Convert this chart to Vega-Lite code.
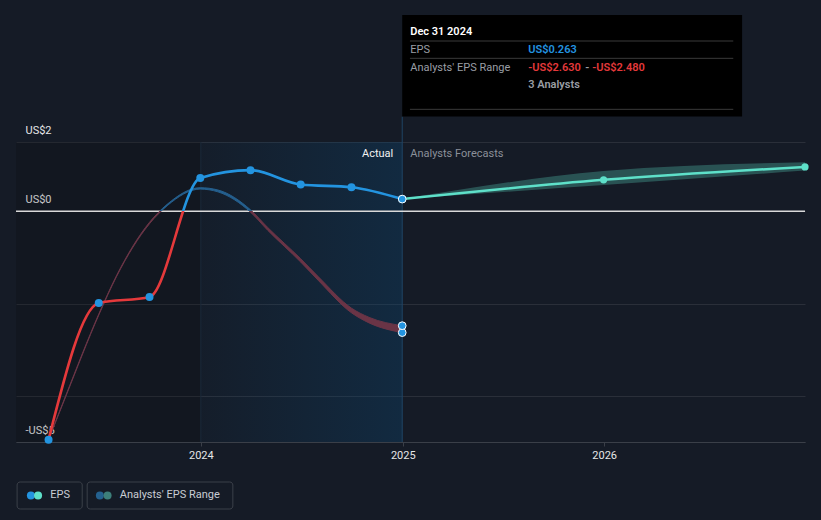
{
  "$schema": "https://vega.github.io/schema/vega-lite/v6.json",
  "width": 789,
  "height": 300,
  "autosize": {"type": "none"},
  "padding": {"left": 16, "top": 142, "right": 16, "bottom": 78},
  "background": "#151b26",
  "config": {"view": {"stroke": null}, "font": "Roboto", "text": {"font": "Roboto"}},
  "datasets": {
    "eps": [
      {"date": "2023-03-31", "eps": -4.95},
      {"date": "2023-06-30", "eps": -1.99},
      {"date": "2023-09-30", "eps": -1.86},
      {"date": "2023-12-31", "eps": 0.72},
      {"date": "2024-03-31", "eps": 0.89},
      {"date": "2024-06-30", "eps": 0.58},
      {"date": "2024-09-30", "eps": 0.52},
      {"date": "2024-12-31", "eps": 0.263}
    ],
    "past": [
      {"date": "2023-03-31", "low": -4.95, "high": -4.95},
      {"date": "2023-05-01", "low": -4.02, "high": -4.0},
      {"date": "2023-06-30", "low": -2.25, "high": -2.23},
      {"date": "2023-08-01", "low": -1.42, "high": -1.4},
      {"date": "2023-09-30", "low": -0.27, "high": -0.24},
      {"date": "2023-11-01", "low": 0.12, "high": 0.15},
      {"date": "2023-12-31", "low": 0.48, "high": 0.51},
      {"date": "2024-02-01", "low": 0.42, "high": 0.46},
      {"date": "2024-03-31", "low": -0.02, "high": 0.03},
      {"date": "2024-05-01", "low": -0.41, "high": -0.35},
      {"date": "2024-06-30", "low": -1.1, "high": -1.03},
      {"date": "2024-08-01", "low": -1.5, "high": -1.42},
      {"date": "2024-09-30", "low": -2.2, "high": -2.1},
      {"date": "2024-11-01", "low": -2.42, "high": -2.3},
      {"date": "2024-12-31", "low": -2.63, "high": -2.48}
    ],
    "forecast": [
      {"date": "2024-12-31", "eps": 0.263, "low": 0.263, "high": 0.263},
      {"date": "2025-12-31", "eps": 0.68, "low": 0.57, "high": 0.87},
      {"date": "2026-12-31", "eps": 0.96, "low": 0.88, "high": 1.06}
    ],
    "range_ends": [
      {"date": "2024-12-31", "value": -2.63},
      {"date": "2024-12-31", "value": -2.48}
    ]
  },
  "layer": [
    {
      "data": {"values": [{}]},
      "mark": {"type": "rect", "color": "#000000", "opacity": 0.14},
      "encoding": {
        "x": {"datum": {"year": 2023, "month": 1, "date": 31}, "type": "temporal"},
        "x2": {"datum": {"year": 2024, "month": 1, "date": 1}},
        "y": {"datum": 1.5, "type": "quantitative"},
        "y2": {"datum": -5}
      }
    },
    {
      "data": {"values": [{}]},
      "mark": {"type": "rect", "fill": {"gradient": "linear", "x1": 0, "y1": 0, "x2": 1, "y2": 0, "stops": [{"offset": 0, "color": "rgba(11,74,121,0.05)"}, {"offset": 1, "color": "rgba(11,74,121,0.32)"}]}},
      "encoding": {
        "x": {"datum": {"year": 2024, "month": 1, "date": 1}, "type": "temporal"},
        "x2": {"datum": {"year": 2024, "month": 12, "date": 31}},
        "y": {"datum": 1.5, "type": "quantitative"},
        "y2": {"datum": -5}
      }
    },
    {
      "data": {"values": [{}]},
      "mark": {"type": "rule", "color": "#1b2a3a", "strokeWidth": 1},
      "encoding": {
        "x": {"datum": {"year": 2024, "month": 1, "date": 1}, "type": "temporal"},
        "y": {"datum": 1.5, "type": "quantitative"},
        "y2": {"datum": -5}
      }
    },
    {
      "data": {"values": [{}]},
      "mark": {"type": "rule", "color": "#1f4464", "strokeWidth": 1},
      "encoding": {
        "x": {"datum": {"year": 2024, "month": 12, "date": 31}, "type": "temporal"},
        "y": {"datum": 2.05, "type": "quantitative"},
        "y2": {"datum": -5}
      }
    },
    {
      "data": {"values": [{}]},
      "mark": {"type": "rule", "color": "#d9d9d9", "strokeWidth": 1.3},
      "encoding": {"y": {"datum": 0, "type": "quantitative"}}
    },
    {
      "data": {"name": "past"},
      "mark": {
        "type": "area",
        "interpolate": "monotone",
        "strokeWidth": 1,
        "fill": {"gradient": "linear", "x1": 0, "y1": 0, "x2": 0, "y2": 1, "stops": [{"offset": 0, "color": "#245f8e"}, {"offset": 0.0934, "color": "#245f8e"}, {"offset": 0.0934, "color": "#6a3446"}, {"offset": 1, "color": "#6a3446"}]},
        "stroke": {"gradient": "linear", "x1": 0, "y1": 0, "x2": 0, "y2": 1, "stops": [{"offset": 0, "color": "#245f8e"}, {"offset": 0.0934, "color": "#245f8e"}, {"offset": 0.0934, "color": "#6a3446"}, {"offset": 1, "color": "#6a3446"}]}
      },
      "encoding": {
        "x": {
          "field": "date", "type": "temporal", "title": null,
          "scale": {"domain": [{"year": 2023, "month": 1, "date": 31}, {"year": 2026, "month": 12, "date": 31}]},
          "axis": {
            "values": [{"year": 2024, "month": 1, "date": 1}, {"year": 2025, "month": 1, "date": 1}, {"year": 2026, "month": 1, "date": 1}],
            "format": "%Y", "grid": false, "domainColor": "#3a3f48", "tickColor": "#3a3f48", "tickSize": 4,
            "labelPadding": 3, "labelColor": "#e6e6e6", "labelFontSize": 11, "labelFont": "Roboto"
          }
        },
        "y": {
          "field": "low", "type": "quantitative", "title": null,
          "scale": {"domain": [-5, 1.5], "nice": false, "zero": false},
          "axis": {
            "values": [-5, -4, -2, 0, 1.5],
            "labelExpr": "datum.value == 1.5 ? 'US$2' : datum.value == 0 ? 'US$0' : datum.value == -5 ? '-US$5' : ''",
            "grid": true, "gridColor": "#2a2f39", "gridWidth": 1, "domain": false, "ticks": false,
            "labelAlign": "left", "labelPadding": -9, "labelBaseline": "middle", "labelOffset": -12,
            "labelColor": "#e6e6e6", "labelFontSize": 11, "labelFont": "Roboto", "labelOverlap": false, "labelFlush": false
          }
        },
        "y2": {"field": "high"}
      }
    },
    {
      "data": {"name": "forecast"},
      "mark": {"type": "area", "interpolate": "monotone", "fill": "#50b9aa", "opacity": 0.35},
      "encoding": {
        "x": {"field": "date", "type": "temporal", "title": null},
        "y": {"field": "low", "type": "quantitative", "title": null},
        "y2": {"field": "high"}
      }
    },
    {
      "data": {"name": "forecast"},
      "mark": {"type": "line", "interpolate": "monotone", "stroke": "#5ee0c9", "strokeWidth": 2.5},
      "encoding": {
        "x": {"field": "date", "type": "temporal", "title": null},
        "y": {"field": "eps", "type": "quantitative", "title": null}
      }
    },
    {
      "data": {"name": "eps"},
      "mark": {
        "type": "line", "interpolate": "monotone", "strokeWidth": 2.6,
        "stroke": {"gradient": "linear", "x1": 0, "y1": 0, "x2": 0, "y2": 1, "stops": [{"offset": 0, "color": "#2394e0"}, {"offset": 0.1524, "color": "#2394e0"}, {"offset": 0.1524, "color": "#e5393b"}, {"offset": 1, "color": "#e5393b"}]}
      },
      "encoding": {
        "x": {"field": "date", "type": "temporal", "title": null},
        "y": {"field": "eps", "type": "quantitative", "title": null}
      }
    },
    {
      "data": {"name": "eps"},
      "mark": {"type": "circle", "size": 64, "fill": "#2394e0", "opacity": 1},
      "encoding": {
        "x": {"field": "date", "type": "temporal", "title": null},
        "y": {"field": "eps", "type": "quantitative", "title": null}
      }
    },
    {
      "data": {"name": "forecast"},
      "transform": [{"filter": "datum.eps > 0.3"}],
      "mark": {"type": "circle", "size": 52, "fill": "#5ee0c9", "opacity": 1},
      "encoding": {
        "x": {"field": "date", "type": "temporal", "title": null},
        "y": {"field": "eps", "type": "quantitative", "title": null}
      }
    },
    {
      "data": {"name": "range_ends"},
      "mark": {"type": "circle", "size": 60, "fill": "#2394e0", "stroke": "#ffffff", "strokeWidth": 1, "opacity": 1},
      "encoding": {
        "x": {"field": "date", "type": "temporal", "title": null},
        "y": {"field": "value", "type": "quantitative", "title": null}
      }
    },
    {
      "data": {"name": "eps"},
      "transform": [{"filter": "datum.eps == 0.263"}],
      "mark": {"type": "circle", "size": 60, "fill": "#2394e0", "stroke": "#ffffff", "strokeWidth": 1, "opacity": 1},
      "encoding": {
        "x": {"field": "date", "type": "temporal", "title": null},
        "y": {"field": "eps", "type": "quantitative", "title": null}
      }
    },
    {
      "data": {"values": [{}]},
      "mark": {"type": "text", "align": "right", "baseline": "middle", "dx": -9, "fontSize": 11, "color": "#f2f2f2", "text": "Actual"},
      "encoding": {
        "x": {"datum": {"year": 2024, "month": 12, "date": 31}, "type": "temporal"},
        "y": {"datum": 1.24, "type": "quantitative"}
      }
    },
    {
      "data": {"values": [{}]},
      "mark": {"type": "text", "align": "left", "baseline": "middle", "dx": 8, "fontSize": 11, "color": "#8b9099", "text": "Analysts Forecasts"},
      "encoding": {
        "x": {"datum": {"year": 2024, "month": 12, "date": 31}, "type": "temporal"},
        "y": {"datum": 1.24, "type": "quantitative"}
      }
    },
    {
      "data": {"values": [{}]},
      "mark": {"type": "rect", "fill": "#000000"},
      "encoding": {
        "x": {"datum": {"year": 2024, "month": 12, "date": 31}, "type": "temporal"},
        "x2": {"datum": {"year": 2026, "month": 9, "date": 8}},
        "y": {"datum": 4.252, "type": "quantitative"},
        "y2": {"datum": 2.05}
      }
    },
    {
      "data": {"values": [{"y": 3.688}, {"y": 3.313}, {"y": 2.208}]},
      "mark": {"type": "rule", "color": "#3a3a3a", "strokeWidth": 1},
      "encoding": {
        "x": {"datum": {"year": 2025, "month": 1, "date": 14}, "type": "temporal"},
        "x2": {"datum": {"year": 2026, "month": 8, "date": 23}},
        "y": {"field": "y", "type": "quantitative", "title": null}
      }
    },
    {
      "data": {"values": [{}]},
      "mark": {"type": "text", "align": "left", "baseline": "middle", "dx": 8, "dy": 1, "fontSize": 11, "fontWeight": 600, "color": "#ffffff", "text": "Dec 31 2024"},
      "encoding": {
        "x": {"datum": {"year": 2024, "month": 12, "date": 31}, "type": "temporal"},
        "y": {"datum": 3.905, "type": "quantitative"}
      }
    },
    {
      "data": {"values": [{}]},
      "mark": {"type": "text", "align": "left", "baseline": "middle", "dx": 8, "dy": 1, "fontSize": 11, "color": "#9a9ea5", "text": "EPS"},
      "encoding": {
        "x": {"datum": {"year": 2024, "month": 12, "date": 31}, "type": "temporal"},
        "y": {"datum": 3.515, "type": "quantitative"}
      }
    },
    {
      "data": {"values": [{}]},
      "mark": {"type": "text", "align": "left", "baseline": "middle", "dx": 126, "dy": 1, "fontSize": 11, "fontWeight": 600, "color": "#2394e0", "text": "US$0.263"},
      "encoding": {
        "x": {"datum": {"year": 2024, "month": 12, "date": 31}, "type": "temporal"},
        "y": {"datum": 3.515, "type": "quantitative"}
      }
    },
    {
      "data": {"values": [{}]},
      "mark": {"type": "text", "align": "left", "baseline": "middle", "dx": 8, "dy": 1, "fontSize": 11, "color": "#9a9ea5", "text": "Analysts' EPS Range"},
      "encoding": {
        "x": {"datum": {"year": 2024, "month": 12, "date": 31}, "type": "temporal"},
        "y": {"datum": 3.131, "type": "quantitative"}
      }
    },
    {
      "data": {"values": [{}]},
      "mark": {"type": "text", "align": "left", "baseline": "middle", "dx": 126, "dy": 1, "fontSize": 11, "fontWeight": 600, "color": "#e5393b", "text": "-US$2.630"},
      "encoding": {
        "x": {"datum": {"year": 2024, "month": 12, "date": 31}, "type": "temporal"},
        "y": {"datum": 3.131, "type": "quantitative"}
      }
    },
    {
      "data": {"values": [{}]},
      "mark": {"type": "text", "align": "left", "baseline": "middle", "dx": 183, "dy": 1, "fontSize": 11, "fontWeight": 600, "color": "#9a9ea5", "text": "-"},
      "encoding": {
        "x": {"datum": {"year": 2024, "month": 12, "date": 31}, "type": "temporal"},
        "y": {"datum": 3.131, "type": "quantitative"}
      }
    },
    {
      "data": {"values": [{}]},
      "mark": {"type": "text", "align": "left", "baseline": "middle", "dx": 190, "dy": 1, "fontSize": 11, "fontWeight": 600, "color": "#e5393b", "text": "-US$2.480"},
      "encoding": {
        "x": {"datum": {"year": 2024, "month": 12, "date": 31}, "type": "temporal"},
        "y": {"datum": 3.131, "type": "quantitative"}
      }
    },
    {
      "data": {"values": [{}]},
      "mark": {"type": "text", "align": "left", "baseline": "middle", "dx": 126, "dy": 1, "fontSize": 11, "fontWeight": 600, "color": "#9a9ea5", "text": "3 Analysts"},
      "encoding": {
        "x": {"datum": {"year": 2024, "month": 12, "date": 31}, "type": "temporal"},
        "y": {"datum": 2.763, "type": "quantitative"}
      }
    },
    {
      "data": {"values": [{}]},
      "mark": {"type": "rect", "fill": null, "fillOpacity": 0, "stroke": "#3b4049", "strokeWidth": 1, "cornerRadius": 3},
      "encoding": {
        "x": {"datum": {"year": 2023, "month": 2, "date": 2}, "type": "temporal"},
        "x2": {"datum": {"year": 2023, "month": 5, "date": 31}},
        "y": {"datum": -5.867, "type": "quantitative"},
        "y2": {"datum": -6.452}
      }
    },
    {
      "data": {"values": [{}]},
      "mark": {"type": "rect", "fill": null, "fillOpacity": 0, "stroke": "#3b4049", "strokeWidth": 1, "cornerRadius": 3},
      "encoding": {
        "x": {"datum": {"year": 2023, "month": 6, "date": 9}, "type": "temporal"},
        "x2": {"datum": {"year": 2024, "month": 2, "date": 28}},
        "y": {"datum": -5.867, "type": "quantitative"},
        "y2": {"datum": -6.452}
      }
    },
    {
      "data": {"values": [{}]},
      "mark": {"type": "circle", "size": 64, "fill": "#2394e0", "opacity": 1},
      "encoding": {
        "x": {"datum": {"year": 2023, "month": 2, "date": 27}, "type": "temporal"},
        "y": {"datum": -6.159, "type": "quantitative"}
      }
    },
    {
      "data": {"values": [{}]},
      "mark": {"type": "circle", "size": 64, "fill": "#5ee0c9", "opacity": 1},
      "encoding": {
        "x": {"datum": {"year": 2023, "month": 3, "date": 12}, "type": "temporal"},
        "y": {"datum": -6.159, "type": "quantitative"}
      }
    },
    {
      "data": {"values": [{}]},
      "mark": {"type": "circle", "size": 64, "fill": "#24618f", "opacity": 1},
      "encoding": {
        "x": {"datum": {"year": 2023, "month": 7, "date": 2}, "type": "temporal"},
        "y": {"datum": -6.159, "type": "quantitative"}
      }
    },
    {
      "data": {"values": [{}]},
      "mark": {"type": "circle", "size": 64, "fill": "#3d7f7a", "opacity": 1},
      "encoding": {
        "x": {"datum": {"year": 2023, "month": 7, "date": 16}, "type": "temporal"},
        "y": {"datum": -6.159, "type": "quantitative"}
      }
    },
    {
      "data": {"values": [{}]},
      "mark": {"type": "text", "align": "left", "baseline": "middle", "fontSize": 11, "color": "#c9cdd4", "text": "EPS"},
      "encoding": {
        "x": {"datum": {"year": 2023, "month": 4, "date": 3}, "type": "temporal"},
        "y": {"datum": -6.159, "type": "quantitative"}
      }
    },
    {
      "data": {"values": [{}]},
      "mark": {"type": "text", "align": "left", "baseline": "middle", "fontSize": 11, "color": "#c9cdd4", "text": "Analysts' EPS Range"},
      "encoding": {
        "x": {"datum": {"year": 2023, "month": 8, "date": 7}, "type": "temporal"},
        "y": {"datum": -6.159, "type": "quantitative"}
      }
    }
  ]
}
